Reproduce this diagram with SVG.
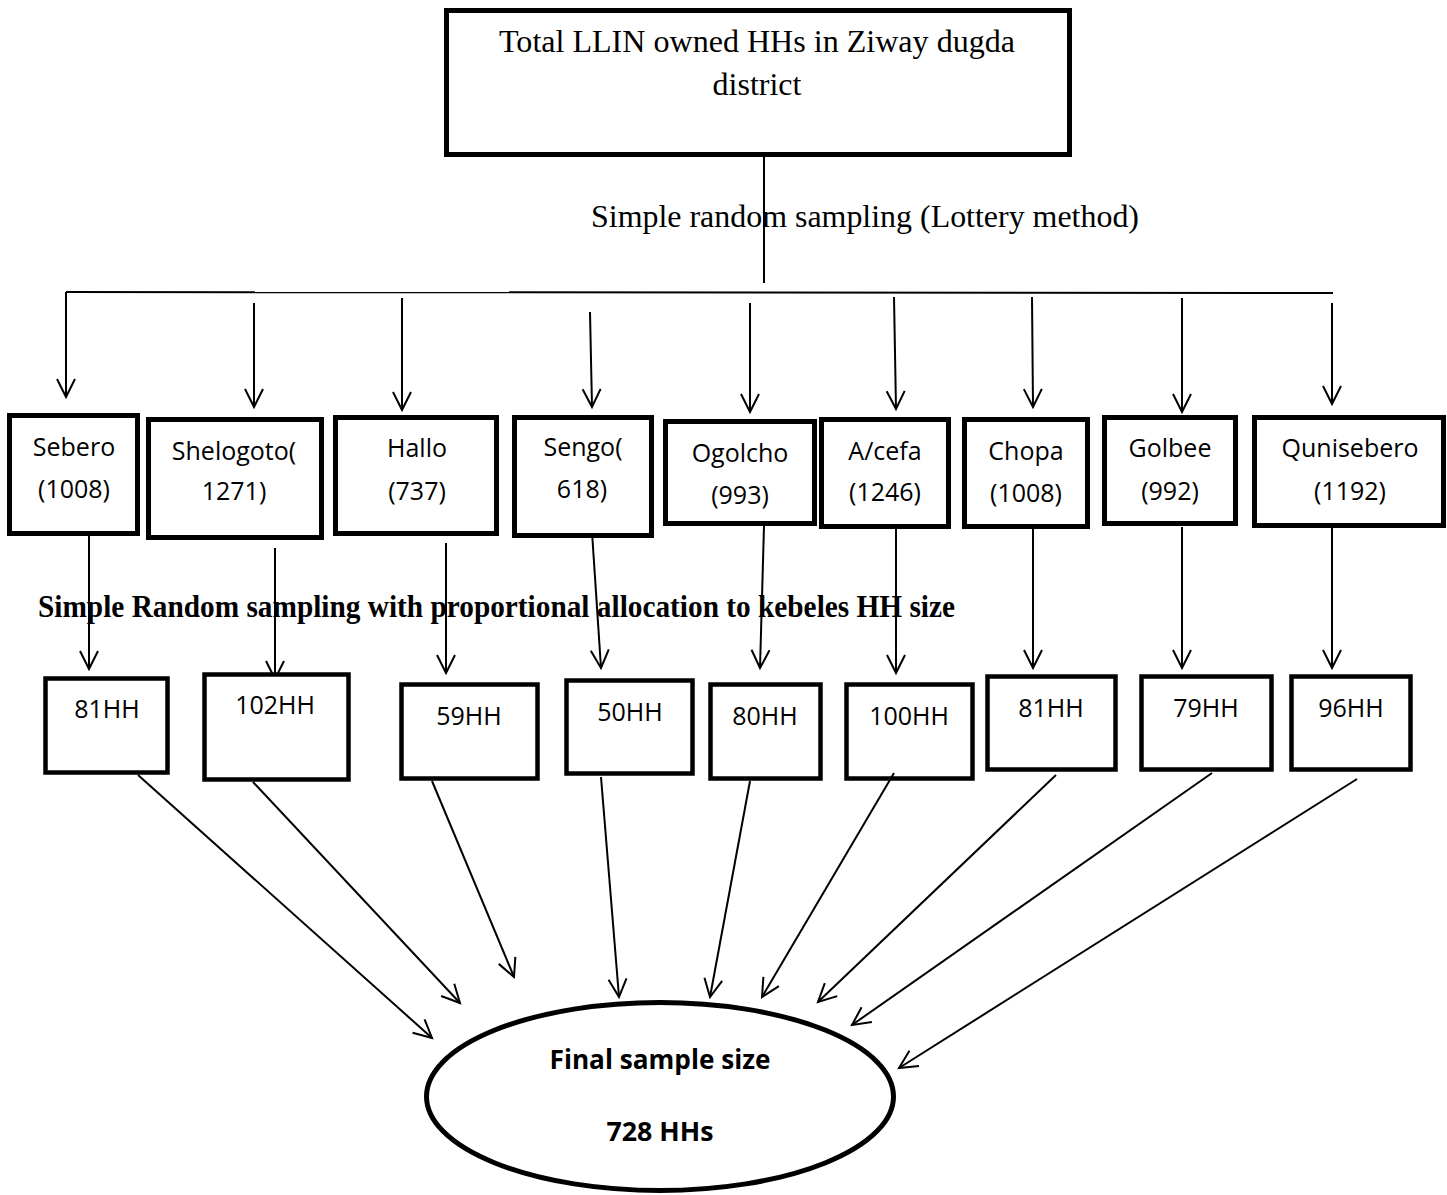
<svg xmlns="http://www.w3.org/2000/svg" width="1447" height="1195" viewBox="0 0 1447 1195">
<style>
.bg{fill:#ffffff}
.box{fill:#ffffff;stroke:#000;stroke-width:5}
.hh{fill:#ffffff;stroke:#000;stroke-width:4.5}
.ell{fill:#ffffff;stroke:#000;stroke-width:5}
.ln{fill:none;stroke:#000;stroke-width:2}
.ar{fill:none;stroke:#000;stroke-width:2;marker-end:url(#arr)}
.serif{font-family:"Liberation Serif","Times New Roman",serif;font-size:32px;fill:#000}
.bold{font-family:"Liberation Serif","Times New Roman",serif;font-size:31px;font-weight:bold;fill:#000}
.lab{font-family:"Open Sans","Noto Sans",sans-serif;font-size:25px;fill:#000;text-anchor:middle}
.fin{font-family:"Open Sans","Noto Sans",sans-serif;font-size:26px;font-weight:bold;fill:#000;text-anchor:middle}
</style>
<defs>
<marker id="arr" markerUnits="userSpaceOnUse" markerWidth="24" markerHeight="24" viewBox="-20 -12 24 24" refX="0" refY="0" orient="auto">
<path d="M-18,-9 L0,0 L-18,9" fill="none" stroke="#000" stroke-width="2"/>
</marker>
</defs>
<rect class="bg" x="0" y="0" width="1447" height="1195"/>

<g id="connectors">
<line class="ln" x1="764" y1="157" x2="764" y2="283"/>
<line class="ln" x1="66" y1="292" x2="1333" y2="293"/>
<line class="ar" x1="66" y1="292" x2="66" y2="397"/>
<line class="ar" x1="254" y1="303" x2="254" y2="407"/>
<line class="ar" x1="402" y1="298" x2="402" y2="410"/>
<line class="ar" x1="590" y1="312" x2="592" y2="407"/>
<line class="ar" x1="750" y1="303" x2="750" y2="412"/>
<line class="ar" x1="894" y1="297" x2="896" y2="409"/>
<line class="ar" x1="1032" y1="297" x2="1033" y2="407"/>
<line class="ar" x1="1182" y1="298" x2="1182" y2="412"/>
<line class="ar" x1="1332" y1="303" x2="1332" y2="404"/>

<line class="ar" x1="89" y1="536" x2="89" y2="669"/>
<line class="ar" x1="275" y1="548" x2="275" y2="679"/>
<line class="ar" x1="446" y1="543" x2="446" y2="673"/>
<line class="ar" x1="592" y1="532" x2="601" y2="668"/>
<line class="ar" x1="764" y1="526" x2="760" y2="668"/>
<line class="ar" x1="896" y1="529" x2="896" y2="673"/>
<line class="ar" x1="1033" y1="529" x2="1033" y2="668"/>
<line class="ar" x1="1182" y1="527" x2="1182" y2="668"/>
<line class="ar" x1="1332" y1="528" x2="1332" y2="668"/>
</g>

<g id="top">
<rect class="box" x="446.5" y="10.5" width="623" height="144"/>
<text class="serif" x="757" y="52" text-anchor="middle" textLength="516" lengthAdjust="spacingAndGlyphs">Total LLIN owned HHs in Ziway dugda</text>
<text class="serif" x="757" y="95" text-anchor="middle">district</text>
</g>
<text id="label-lottery" class="serif" x="591" y="227" textLength="548" lengthAdjust="spacingAndGlyphs">Simple random sampling (Lottery method)</text>

<g id="sebero"><rect class="box" x="9.5" y="415.5" width="128" height="118"/><text class="lab" x="74" y="456">Sebero</text><text class="lab" x="74" y="498">(1008)</text></g>
<g id="shelogoto"><rect class="box" x="148.5" y="419.5" width="173" height="118"/><text class="lab" x="234" y="460">Shelogoto(</text><text class="lab" x="234" y="500">1271)</text></g>
<g id="hallo"><rect class="box" x="335.5" y="417.5" width="161" height="116"/><text class="lab" x="417" y="457">Hallo</text><text class="lab" x="417" y="500">(737)</text></g>
<g id="sengo"><rect class="box" x="514.5" y="417.5" width="137" height="118"/><text class="lab" x="583" y="456">Sengo(</text><text class="lab" x="582" y="498">618)</text></g>
<g id="ogolcho"><rect class="box" x="665.5" y="421.5" width="149" height="102"/><text class="lab" x="740" y="462">Ogolcho</text><text class="lab" x="740" y="504">(993)</text></g>
<g id="acefa"><rect class="box" x="821.5" y="419.5" width="127" height="107"/><text class="lab" x="885" y="460">A/cefa</text><text class="lab" x="885" y="501">(1246)</text></g>
<g id="chopa"><rect class="box" x="964.5" y="419.5" width="123" height="107"/><text class="lab" x="1026" y="460">Chopa</text><text class="lab" x="1026" y="502">(1008)</text></g>
<g id="golbee"><rect class="box" x="1104.5" y="417.5" width="131" height="106"/><text class="lab" x="1170" y="457">Golbee</text><text class="lab" x="1170" y="500">(992)</text></g>
<g id="qunisebero"><rect class="box" x="1254.5" y="417.5" width="189" height="108"/><text class="lab" x="1350" y="457">Qunisebero</text><text class="lab" x="1350" y="500">(1192)</text></g>

<text id="label-proportional" class="bold" x="38" y="617" textLength="917" lengthAdjust="spacingAndGlyphs">Simple Random sampling with proportional allocation to kebeles HH size</text>

<g id="hh-sebero"><rect class="hh" x="45.5" y="678.5" width="122" height="94"/><text class="lab" x="107" y="718">81HH</text></g>
<g id="hh-shelogoto"><rect class="hh" x="204.5" y="674.5" width="144" height="105"/><text class="lab" x="275" y="714">102HH</text></g>
<g id="hh-hallo"><rect class="hh" x="401.5" y="684.5" width="136" height="94"/><text class="lab" x="469" y="725">59HH</text></g>
<g id="hh-sengo"><rect class="hh" x="566.5" y="680.5" width="126" height="93"/><text class="lab" x="630" y="721">50HH</text></g>
<g id="hh-ogolcho"><rect class="hh" x="710.5" y="684.5" width="110" height="94"/><text class="lab" x="765" y="725">80HH</text></g>
<g id="hh-acefa"><rect class="hh" x="846.5" y="684.5" width="126" height="94"/><text class="lab" x="909" y="725">100HH</text></g>
<g id="hh-chopa"><rect class="hh" x="987.5" y="676.5" width="128" height="93"/><text class="lab" x="1051" y="717">81HH</text></g>
<g id="hh-golbee"><rect class="hh" x="1141.5" y="676.5" width="130" height="93"/><text class="lab" x="1206" y="717">79HH</text></g>
<g id="hh-qunisebero"><rect class="hh" x="1291.5" y="676.5" width="119" height="93"/><text class="lab" x="1351" y="717">96HH</text></g>

<g id="connectors-final">
<line class="ar" x1="138" y1="775" x2="432" y2="1038"/>
<line class="ar" x1="253" y1="782" x2="460" y2="1003"/>
<line class="ar" x1="432" y1="781" x2="514" y2="977"/>
<line class="ar" x1="601" y1="777" x2="619" y2="997"/>
<line class="ar" x1="750" y1="781" x2="710" y2="997"/>
<line class="ar" x1="894" y1="773" x2="762" y2="997"/>
<line class="ar" x1="1056" y1="775" x2="818" y2="1002"/>
<line class="ar" x1="1212" y1="773" x2="852" y2="1025"/>
<line class="ar" x1="1357" y1="779" x2="899" y2="1068"/>
</g>

<g id="final">
<ellipse class="ell" cx="660" cy="1096.5" rx="233.5" ry="94"/>
<text class="fin" x="660" y="1069" textLength="221" lengthAdjust="spacingAndGlyphs">Final sample size</text>
<text class="fin" x="660" y="1141" textLength="107" lengthAdjust="spacingAndGlyphs">728 HHs</text>
</g>
</svg>
